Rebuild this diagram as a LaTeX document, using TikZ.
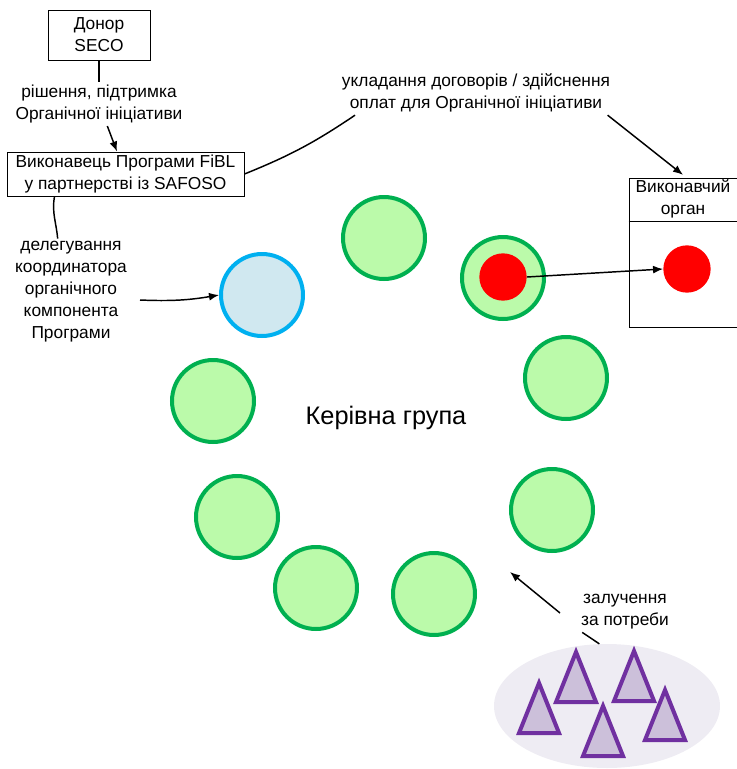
\documentclass[tikz,border=0pt]{standalone}
\usepackage{fontspec}
\setmainfont{Liberation Sans}
\usepackage{tikz}
\usetikzlibrary{arrows}
\usetikzlibrary{arrows.meta}
\usetikzlibrary{calc}
\usetikzlibrary{shapes.geometric}

\definecolor{memberline}{RGB}{0,176,80}
\definecolor{memberfill}{RGB}{187,250,170}
\definecolor{coordline}{RGB}{0,176,240}
\definecolor{coordfill}{RGB}{208,232,240}
\definecolor{execred}{RGB}{255,0,0}
\definecolor{poolfill}{RGB}{238,236,243}
\definecolor{expertline}{RGB}{112,48,160}
\definecolor{expertfill}{RGB}{204,192,218}

\begin{document}
\begin{tikzpicture}
[x=0.75pt,y=-0.75pt,
  boxdecorate/.style={shape=rectangle,draw,line width=0.75pt,inner sep=0pt,align=center,font=\fontsize{13}{16.5}\selectfont},
  textdecorate/.style={align=center,inner sep=2pt,font=\fontsize{13}{16.5}\selectfont},
  memberdecorate/.style={shape=circle,draw=memberline,fill=memberfill,line width=3pt,minimum size=61.5pt,inner sep=0pt},
  reddecorate/.style={shape=circle,fill=execred,minimum size=35.5pt,inner sep=0pt},
  expertdecorate/.style={draw=expertline,fill=expertfill,line width=3pt},
  linedecorate/.style={-,line width=1.1pt},
  arrowdecorate/.style={-{Latex[length=7.5pt,width=6pt]},line width=1.1pt}]
\useasboundingbox (0,0) rectangle (737,769);

%% boxes
\node (donor) at (99,35) [boxdecorate,minimum width=76.5pt,minimum height=37.5pt] {Донор\\SECO};
\node (fibl) at (125.5,174) [boxdecorate,minimum width=177.75pt,minimum height=33pt] {Виконавець Програми FiBL\\у партнерстві із SAFOSO};
\node (exec) at (683,252.5) [boxdecorate,minimum width=81pt,minimum height=111.75pt] {};
\draw[line width=0.75pt] ([yshift=-33pt]exec.north west) -- ([yshift=-33pt]exec.north east);
\node (exechead) at (683,199) [textdecorate] {Виконавчий\\орган};
\node (execmember) at (687,269) [reddecorate] {};

%% labels
\node (decision) at (99,104) [textdecorate] {рішення, підтримка\\Органічної ініціативи};
\node (contract) at (476,93) [textdecorate] {укладання договорів / здійснення\\оплат для Органічної ініціативи};
\node (delegate) at (71,292) [textdecorate] {делегування\\координатора\\органічного\\компонента\\Програми};
\node (steering) at (386,418) [font=\fontsize{19}{22}\selectfont] {Керівна група};
\node (involve) at (625,612) [textdecorate] {залучення\\за потреби};

%% steering group members
\node (coord) at (262,295) [memberdecorate,draw=coordline,fill=coordfill] {};
\foreach \nodename/\x/\y in {m1/384/238, m2/503/278, m3/566/378, m4/552/510,
  m5/434/594, m6/316/588, m7/237/517, m8/213/401}
{
  \node (\nodename) at (\x,\y) [memberdecorate] {};
}
\node (redmember) at (503,277) [reddecorate] {};

%% experts
\node (pool) at (607,706) [shape=ellipse,fill=poolfill,minimum width=169.5pt,minimum height=93pt,inner sep=0pt] {};
\foreach \x/\y in {539/683, 576/652, 634/651, 603/706, 665/690}
{
  \draw[expertdecorate] (\x,\y) -- ++(-20,50) -- ++(40,0) -- cycle;
}

%% connectors
\coordinate (delegtail) at (140,300);
\coordinate (involtail) at (560,613);
\coordinate (involtip) at (510,572);
\draw[linedecorate] (donor) -- (decision);
\draw[arrowdecorate] (decision) -- (fibl);
\draw[linedecorate] (fibl.east) to[bend right=6] ([xshift=12pt]contract.south west);
\draw[arrowdecorate] ([xshift=-4pt]contract.south east) -- ([yshift=2pt]exec.north);
\draw[linedecorate] ([xshift=36pt]fibl.south west) to[out=-100,in=95] ([xshift=-10pt]delegate.north);
\draw[arrowdecorate] (delegtail) to[bend right=6] (coord.west);
\draw[arrowdecorate] (redmember.east) -- (execmember.west);
\draw[arrowdecorate] (involtail) -- (involtip);
\draw[linedecorate] ([xshift=3pt]involve.south west) -- (pool.97);
\end{tikzpicture}
\end{document}
